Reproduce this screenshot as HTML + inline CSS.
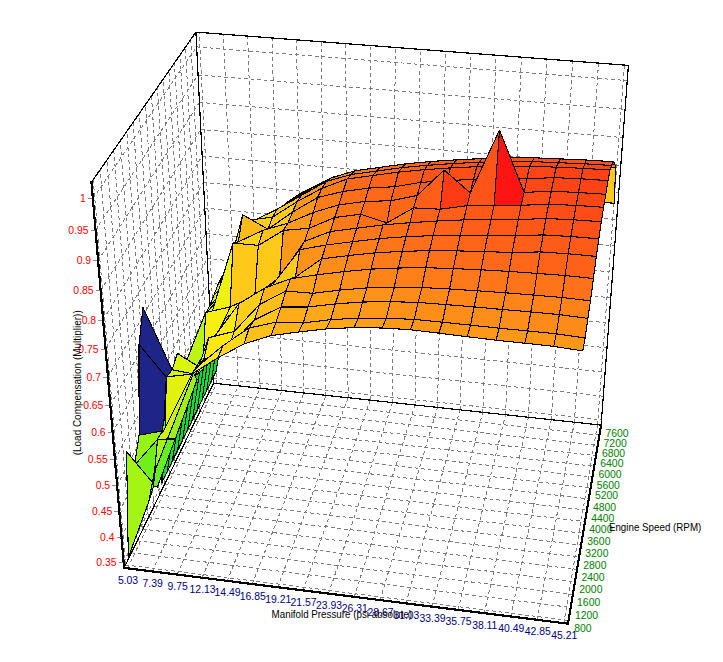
<!DOCTYPE html>
<html><head><meta charset="utf-8"><title>Load Compensation Surface</title>
<style>html,body{margin:0;padding:0;background:#fff}body{width:723px;height:662px;overflow:hidden}</style></head>
<body>
<svg width="723" height="662" viewBox="0 0 723 662" style="display:block" shape-rendering="crispEdges">
<rect width="723" height="662" fill="#fff"/>
<path d="M127.5,568.3 L216.6,383.5 M152.2,571.4 L238.3,385.9 M177.1,574.6 L260.1,388.2 M202.1,577.7 L282,390.6 M227.1,580.9 L303.9,393 M252.3,584 L326,395.3 M277.7,587.2 L348.1,397.7 M303.1,590.4 L370.3,400.1 M328.6,593.6 L392.6,402.6 M354.3,596.8 L415,405 M380.1,600.1 L437.5,407.4 M405.9,603.3 L460.1,409.9 M432,606.6 L482.8,412.3 M458.1,609.9 L505.5,414.8 M484.3,613.2 L528.4,417.2 M510.7,616.5 L551.3,419.7 M537.2,619.8 L574.4,422.2 M563.8,623.2 L597.5,424.7 M125.5,564.9 L568.5,620.5 M131.4,552.8 L570.7,607.4 M137.2,540.8 L572.9,594.5 M142.9,529.1 L575,581.8 M148.5,517.5 L577,569.4 M154,506.2 L579.1,557.1 M159.4,495 L581.1,545.1 M164.7,484 L583.1,533.3 M170,473.2 L585,521.6 M175.1,462.6 L586.9,510.2 M180.2,452.1 L588.8,498.9 M185.2,441.8 L590.6,487.9 M190.1,431.6 L592.4,477 M194.9,421.6 L594.2,466.3 M199.7,411.8 L596,455.7 M204.4,402.1 L597.7,445.4 M209,392.6 L599.4,435.2 M125.5,564.9 L93.2,179.7 M131.4,552.8 L100.2,169.7 M137.2,540.8 L107,159.9 M142.9,529.1 L113.8,150.2 M148.5,517.5 L120.3,140.8 M154,506.2 L126.8,131.5 M159.4,495 L133.1,122.4 M164.7,484 L139.4,113.4 M170,473.2 L145.5,104.6 M175.1,462.6 L151.5,96 M180.2,452.1 L157.4,87.5 M185.2,441.8 L163.2,79.2 M190.1,431.6 L168.9,71 M194.9,421.6 L174.5,63 M199.7,411.8 L180,55.1 M204.4,402.1 L185.4,47.3 M209,392.6 L190.7,39.7 M123.6,562.4 L213.3,378.1 M121.5,537.3 L212.2,354.9 M119.3,511.8 L211,331.4 M117.1,485.8 L209.8,307.5 M114.9,459.4 L208.5,283.2 M112.6,432.5 L207.3,258.6 M110.3,405.1 L206,233.6 M108,377.2 L204.8,208.2 M105.6,348.9 L203.5,182.4 M103.2,319.9 L202.1,156.1 M100.7,290.5 L200.8,129.5 M98.1,260.5 L199.4,102.4 M95.6,229.9 L198.1,74.9 M92.9,198.7 L196.6,46.9 M216.6,383.5 L199.2,32.4 M238.3,385.9 L223.4,34.3 M260.1,388.2 L247.6,36.1 M282,390.6 L272,38 M303.9,393 L296.4,39.9 M326,395.3 L321,41.8 M348.1,397.7 L345.7,43.7 M370.3,400.1 L370.5,45.6 M392.6,402.6 L395.3,47.5 M415,405 L420.3,49.4 M437.5,407.4 L445.5,51.3 M460.1,409.9 L470.7,53.3 M482.8,412.3 L496,55.2 M505.5,414.8 L521.5,57.2 M528.4,417.2 L547,59.1 M551.3,419.7 L572.7,61.1 M574.4,422.2 L598.5,63.1 M597.5,424.7 L624.4,65.1 M213.3,378.1 L601.5,419.9 M212.2,354.9 L603.3,396.2 M211,331.4 L605.1,372.2 M209.8,307.5 L607,347.8 M208.5,283.2 L608.9,323 M207.3,258.6 L610.8,297.8 M206,233.6 L612.7,272.1 M204.8,208.2 L614.7,246.1 M203.5,182.4 L616.7,219.6 M202.1,156.1 L618.8,192.8 M200.8,129.5 L620.8,165.4 M199.4,102.4 L622.9,137.6 M198.1,74.9 L625.1,109.3 M196.6,46.9 L627.3,80.6" fill="none" stroke="#7a7a7a" stroke-width="1" stroke-dasharray="3.6 3"/>
<path d="M124.1,567.9 L213.6,383.2 M213.6,383.2 L601.1,425.1 M91.5,182.2 L195.9,32.1 M195.9,32.1 L628.4,65.4 M195.9,32.1 L213.6,383.2 M628.4,65.4 L601.1,425.1" fill="none" stroke="#000" stroke-width="1.2"/>
<g stroke="#000" stroke-width="1.1" stroke-linejoin="round">
<path d="M211.4,380.9 L228.4,269.9 L233.4,271 L216,371.5Z" fill="#05e22b"/>
<path d="M228.4,269.9 L250.7,257.1 L255.3,253.3 L233.4,271Z" fill="#bcf511"/>
<path d="M250.7,257.1 L272.4,215.7 L276.9,212.3 L255.3,253.3Z" fill="#d6f50e"/>
<path d="M272.4,215.7 L295.4,196.9 L299.7,193.7 L276.9,212.3Z" fill="#f7ef10"/>
<path d="M295.4,196.9 L318.9,184.8 L323,182.1 L299.7,193.7Z" fill="#ffe614"/>
<path d="M318.9,184.8 L342.7,174.6 L346.6,174.2 L323,182.1Z" fill="#ffcd18"/>
<path d="M342.7,174.6 L366.7,176.5 L370.4,210.5 L346.6,174.2Z" fill="#ffbe19"/>
<path d="M366.7,176.5 L391,173.2 L394.1,207.5 L370.4,210.5Z" fill="#ffe514"/>
<path d="M391,173.2 L415.4,169.9 L418,204.4 L394.1,207.5Z" fill="#ffe015"/>
<path d="M415.4,169.9 L439.9,167.7 L442.1,202.3 L418,204.4Z" fill="#ffdb16"/>
<path d="M439.9,167.7 L464.7,166 L466.3,200.8 L442.1,202.3Z" fill="#ffd617"/>
<path d="M464.7,166 L489.6,164.9 L490.7,199.8 L466.3,200.8Z" fill="#ffd317"/>
<path d="M489.6,164.9 L514.6,164.3 L515.1,199.3 L490.7,199.8Z" fill="#ffcf18"/>
<path d="M514.6,164.3 L539.7,164.2 L539.7,199.3 L515.1,199.3Z" fill="#ffcd18"/>
<path d="M539.7,164.2 L564.9,165.3 L564.4,200.4 L539.7,199.3Z" fill="#ffcb19"/>
<path d="M564.9,165.3 L590.2,166.3 L589.2,201.6 L564.4,200.4Z" fill="#ffca19"/>
<path d="M590.2,166.3 L615.7,167.9 L614.1,203.2 L589.2,201.6Z" fill="#ffc919"/>
<path d="M206.8,390.4 L223.5,273.9 L228.4,269.9 L211.4,380.9Z" fill="#05e22b"/>
<path d="M223.5,273.9 L246,260.9 L250.7,257.1 L228.4,269.9Z" fill="#c8f50f"/>
<path d="M246,260.9 L267.9,220.3 L272.4,215.7 L250.7,257.1Z" fill="#ddf50e"/>
<path d="M267.9,220.3 L291,199.8 L295.4,196.9 L272.4,215.7Z" fill="#f9ed11"/>
<path d="M291,199.8 L314.7,187.5 L318.9,184.8 L295.4,196.9Z" fill="#ffe115"/>
<path d="M314.7,187.5 L338.7,175.6 L342.7,174.6 L318.9,184.8Z" fill="#ffc619"/>
<path d="M338.7,175.6 L363,173.1 L366.7,176.5 L342.7,174.6Z" fill="#ffb019"/>
<path d="M363,173.1 L387.5,169.8 L391,173.2 L366.7,176.5Z" fill="#ffb019"/>
<path d="M387.5,169.8 L412.2,166.5 L415.4,169.9 L391,173.2Z" fill="#ffa619"/>
<path d="M412.2,166.5 L437,164.2 L439.9,167.7 L415.4,169.9Z" fill="#ff9c19"/>
<path d="M437,164.2 L462.1,162.5 L464.7,166 L439.9,167.7Z" fill="#ff9519"/>
<path d="M462.1,162.5 L487.2,161.3 L489.6,164.9 L464.7,166Z" fill="#ff8e19"/>
<path d="M487.2,161.3 L512.5,160.7 L514.6,164.3 L489.6,164.9Z" fill="#ff8919"/>
<path d="M512.5,160.7 L538,160.6 L539.7,164.2 L514.6,164.3Z" fill="#ff8419"/>
<path d="M538,160.6 L563.5,161.7 L564.9,165.3 L539.7,164.2Z" fill="#ff8119"/>
<path d="M563.5,161.7 L589.1,162.8 L590.2,166.3 L564.9,165.3Z" fill="#ff7f19"/>
<path d="M589.1,162.8 L614.9,164.4 L615.7,167.9 L590.2,166.3Z" fill="#ff7d19"/>
<path d="M202.1,400 L218.7,283 L223.5,273.9 L206.8,390.4Z" fill="#05e22b"/>
<path d="M218.7,283 L241.3,267.4 L246,260.9 L223.5,273.9Z" fill="#cff50f"/>
<path d="M241.3,267.4 L263.2,224.4 L267.9,220.3 L246,260.9Z" fill="#e4f50e"/>
<path d="M263.2,224.4 L286.5,202.6 L291,199.8 L267.9,220.3Z" fill="#fbec12"/>
<path d="M286.5,202.6 L310.4,190.3 L314.7,187.5 L291,199.8Z" fill="#ffdb16"/>
<path d="M310.4,190.3 L334.6,176.6 L338.7,175.6 L314.7,187.5Z" fill="#ffbc19"/>
<path d="M334.6,176.6 L359.1,171.4 L363,173.1 L338.7,175.6Z" fill="#ffa319"/>
<path d="M359.1,171.4 L383.9,168 L387.5,169.8 L363,173.1Z" fill="#ff9a19"/>
<path d="M383.9,168 L408.9,164.6 L412.2,166.5 L387.5,169.8Z" fill="#ff9119"/>
<path d="M408.9,164.6 L434,162.3 L437,164.2 L412.2,166.5Z" fill="#ff8819"/>
<path d="M434,162.3 L459.3,160.6 L462.1,162.5 L437,164.2Z" fill="#ff8119"/>
<path d="M459.3,160.6 L484.8,159.4 L487.2,161.3 L462.1,162.5Z" fill="#ff7a19"/>
<path d="M484.8,159.4 L510.4,158.8 L512.5,160.7 L487.2,161.3Z" fill="#ff7519"/>
<path d="M510.4,158.8 L536.1,158.7 L538,160.6 L512.5,160.7Z" fill="#ff7019"/>
<path d="M536.1,158.7 L561.9,159.8 L563.5,161.7 L538,160.6Z" fill="#ff6c19"/>
<path d="M561.9,159.8 L587.9,160.8 L589.1,162.8 L563.5,161.7Z" fill="#ff6a19"/>
<path d="M587.9,160.8 L613.9,162.5 L614.9,164.4 L589.1,162.8Z" fill="#ff6919"/>
<path d="M197.3,409.8 L214,294.8 L218.7,283 L202.1,400Z" fill="#05e22b"/>
<path d="M214,294.8 L236.5,274 L241.3,267.4 L218.7,283Z" fill="#cff50f"/>
<path d="M236.5,274 L258.3,223.8 L263.2,224.4 L241.3,267.4Z" fill="#e6f40e"/>
<path d="M258.3,223.8 L281.9,206.7 L286.5,202.6 L263.2,224.4Z" fill="#fdea13"/>
<path d="M281.9,206.7 L306,191.4 L310.4,190.3 L286.5,202.6Z" fill="#ffd517"/>
<path d="M306,191.4 L330.4,178.2 L334.6,176.6 L310.4,190.3Z" fill="#ffb119"/>
<path d="M330.4,178.2 L355.2,170.7 L359.1,171.4 L334.6,176.6Z" fill="#ff9519"/>
<path d="M355.2,170.7 L380.3,167.3 L383.9,168 L359.1,171.4Z" fill="#ff8919"/>
<path d="M380.3,167.3 L405.5,163.9 L408.9,164.6 L383.9,168Z" fill="#ff8019"/>
<path d="M405.5,163.9 L430.9,161.5 L434,162.3 L408.9,164.6Z" fill="#ff7619"/>
<path d="M430.9,161.5 L456.5,159.8 L459.3,160.6 L434,162.3Z" fill="#ff6f19"/>
<path d="M456.5,159.8 L482.2,158.6 L484.8,159.4 L459.3,160.6Z" fill="#ff6919"/>
<path d="M482.2,158.6 L508.1,157.9 L510.4,158.8 L484.8,159.4Z" fill="#ff6419"/>
<path d="M508.1,157.9 L534.2,157.8 L536.1,158.7 L510.4,158.8Z" fill="#ff6118"/>
<path d="M534.2,157.8 L560.3,158.9 L561.9,159.8 L536.1,158.7Z" fill="#ff5d18"/>
<path d="M560.3,158.9 L586.5,160 L587.9,160.8 L561.9,159.8Z" fill="#ff5c18"/>
<path d="M586.5,160 L612.9,161.7 L613.9,162.5 L587.9,160.8Z" fill="#ff5a18"/>
<path d="M192.5,419.7 L209.3,306.7 L214,294.8 L197.3,409.8Z" fill="#05e22b"/>
<path d="M209.3,306.7 L231.6,280.8 L236.5,274 L214,294.8Z" fill="#ccf50f"/>
<path d="M231.6,280.8 L253.2,221 L258.3,223.8 L236.5,274Z" fill="#e8f40e"/>
<path d="M253.2,221 L277.2,209.1 L281.9,206.7 L258.3,223.8Z" fill="#ffe415"/>
<path d="M277.2,209.1 L301.5,195.4 L306,191.4 L281.9,206.7Z" fill="#ffd118"/>
<path d="M301.5,195.4 L326.2,181.5 L330.4,178.2 L306,191.4Z" fill="#ffa419"/>
<path d="M326.2,181.5 L351.2,174.5 L355.2,170.7 L330.4,178.2Z" fill="#ff8919"/>
<path d="M351.2,174.5 L376.5,171.1 L380.3,167.3 L355.2,170.7Z" fill="#ff7919"/>
<path d="M376.5,171.1 L402,167.6 L405.5,163.9 L380.3,167.3Z" fill="#ff7019"/>
<path d="M402,167.6 L427.7,165.3 L430.9,161.5 L405.5,163.9Z" fill="#ff6719"/>
<path d="M427.7,165.3 L453.5,163.5 L456.5,159.8 L430.9,161.5Z" fill="#ff6118"/>
<path d="M453.5,163.5 L479.5,162.3 L482.2,158.6 L456.5,159.8Z" fill="#ff5c18"/>
<path d="M479.5,162.3 L505.6,161.7 L508.1,157.9 L482.2,158.6Z" fill="#ff5718"/>
<path d="M505.6,161.7 L531.9,161.6 L534.2,157.8 L508.1,157.9Z" fill="#ff5417"/>
<path d="M531.9,161.6 L558.3,162.7 L560.3,158.9 L534.2,157.8Z" fill="#ff5117"/>
<path d="M558.3,162.7 L584.8,163.8 L586.5,160 L560.3,158.9Z" fill="#ff4f17"/>
<path d="M584.8,163.8 L611.5,165.5 L612.9,161.7 L586.5,160Z" fill="#ff4e17"/>
<path d="M187.6,429.8 L204.3,316.3 L209.3,306.7 L192.5,419.7Z" fill="#05e22b"/>
<path d="M204.3,316.3 L226.6,287.6 L231.6,280.8 L209.3,306.7Z" fill="#c8f50f"/>
<path d="M226.6,287.6 L248.1,220.3 L253.2,221 L231.6,280.8Z" fill="#ebf30f"/>
<path d="M248.1,220.3 L272.6,217.1 L277.2,209.1 L253.2,221Z" fill="#ffd816"/>
<path d="M272.6,217.1 L297,201.7 L301.5,195.4 L277.2,209.1Z" fill="#ffca19"/>
<path d="M297,201.7 L321.9,188.3 L326.2,181.5 L301.5,195.4Z" fill="#ff9b19"/>
<path d="M321.9,188.3 L347.1,179 L351.2,174.5 L326.2,181.5Z" fill="#ff8019"/>
<path d="M347.1,179 L372.7,175.5 L376.5,171.1 L351.2,174.5Z" fill="#ff7119"/>
<path d="M372.7,175.5 L398.4,172.1 L402,167.6 L376.5,171.1Z" fill="#ff6819"/>
<path d="M398.4,172.1 L424.3,169.7 L427.7,165.3 L402,167.6Z" fill="#ff6118"/>
<path d="M424.3,169.7 L450.4,167.9 L453.5,163.5 L427.7,165.3Z" fill="#ff5a18"/>
<path d="M450.4,167.9 L476.7,166.7 L479.5,162.3 L453.5,163.5Z" fill="#ff5517"/>
<path d="M476.7,166.7 L503.1,166.1 L505.6,161.7 L479.5,162.3Z" fill="#ff5117"/>
<path d="M503.1,166.1 L529.6,166.1 L531.9,161.6 L505.6,161.7Z" fill="#ff4d17"/>
<path d="M529.6,166.1 L556.3,167.2 L558.3,162.7 L531.9,161.6Z" fill="#ff4a16"/>
<path d="M556.3,167.2 L583.1,168.3 L584.8,163.8 L558.3,162.7Z" fill="#ff4816"/>
<path d="M583.1,168.3 L610,170 L611.5,165.5 L584.8,163.8Z" fill="#ff4716"/>
<path d="M182.6,440.1 L199.4,328.6 L204.3,316.3 L187.6,429.8Z" fill="#05e22b"/>
<path d="M199.4,328.6 L221.7,297.2 L226.6,287.6 L204.3,316.3Z" fill="#c8f50f"/>
<path d="M221.7,297.2 L242.6,214.7 L248.1,220.3 L226.6,287.6Z" fill="#edf20f"/>
<path d="M242.6,214.7 L268,229.2 L272.6,217.1 L248.1,220.3Z" fill="#ffce18"/>
<path d="M268,229.2 L292.6,212 L297,201.7 L272.6,217.1Z" fill="#ffc919"/>
<path d="M292.6,212 L317.6,197.5 L321.9,188.3 L297,201.7Z" fill="#ff9619"/>
<path d="M317.6,197.5 L343,191.5 L347.1,179 L321.9,188.3Z" fill="#ff7c19"/>
<path d="M343,191.5 L368.8,188.1 L372.7,175.5 L347.1,179Z" fill="#ff6a19"/>
<path d="M368.8,188.1 L394.7,186.7 L398.4,172.1 L372.7,175.5Z" fill="#ff6218"/>
<path d="M394.7,186.7 L420.8,182.4 L424.3,169.7 L398.4,172.1Z" fill="#ff5a18"/>
<path d="M420.8,182.4 L447.1,180.6 L450.4,167.9 L424.3,169.7Z" fill="#ff5417"/>
<path d="M447.1,180.6 L473.5,179.4 L476.7,166.7 L450.4,167.9Z" fill="#ff4f17"/>
<path d="M473.5,179.4 L500.1,178.8 L503.1,166.1 L476.7,166.7Z" fill="#ff4a17"/>
<path d="M500.1,178.8 L526.9,178.8 L529.6,166.1 L503.1,166.1Z" fill="#ff4716"/>
<path d="M526.9,178.8 L553.9,177.6 L556.3,167.2 L529.6,166.1Z" fill="#ff4416"/>
<path d="M553.9,177.6 L580.9,178.8 L583.1,168.3 L556.3,167.2Z" fill="#ff4216"/>
<path d="M580.9,178.8 L608,180.6 L610,170 L583.1,168.3Z" fill="#ff4116"/>
<path d="M177.5,450.5 L194.4,341.1 L199.4,328.6 L182.6,440.1Z" fill="#05e22b"/>
<path d="M194.4,341.1 L216.7,307 L221.7,297.2 L199.4,328.6Z" fill="#c5f50f"/>
<path d="M216.7,307 L238.4,241.8 L242.6,214.7 L221.7,297.2Z" fill="#edf20f"/>
<path d="M238.4,241.8 L263,230.3 L268,229.2 L242.6,214.7Z" fill="#ffba19"/>
<path d="M263,230.3 L288,223.1 L292.6,212 L268,229.2Z" fill="#ffcc18"/>
<path d="M288,223.1 L313.3,212.5 L317.6,197.5 L292.6,212Z" fill="#ff9819"/>
<path d="M313.3,212.5 L338.9,204.8 L343,191.5 L317.6,197.5Z" fill="#ff7c19"/>
<path d="M338.9,204.8 L364.8,201.5 L368.8,188.1 L343,191.5Z" fill="#ff6f19"/>
<path d="M364.8,201.5 L390.9,200.7 L394.7,186.7 L368.8,188.1Z" fill="#ff6719"/>
<path d="M390.9,200.7 L417.2,195.5 L420.8,182.4 L394.7,186.7Z" fill="#ff6218"/>
<path d="M417.2,195.5 L444.2,170 L447.1,180.6 L420.8,182.4Z" fill="#ff5918"/>
<path d="M444.2,170 L470.3,192.9 L473.5,179.4 L447.1,180.6Z" fill="#ff5417"/>
<path d="M470.3,192.9 L499.5,130.1 L500.1,178.8 L473.5,179.4Z" fill="#ff4f17"/>
<path d="M499.5,130.1 L524.1,192.4 L526.9,178.8 L500.1,178.8Z" fill="#ff4b17"/>
<path d="M524.1,192.4 L551.3,191.2 L553.9,177.6 L526.9,178.8Z" fill="#ff4816"/>
<path d="M551.3,191.2 L578.5,192.5 L580.9,178.8 L553.9,177.6Z" fill="#ff4416"/>
<path d="M578.5,192.5 L605.8,194.3 L608,180.6 L580.9,178.8Z" fill="#ff4216"/>
<path d="M172.3,461.1 L189.3,353.8 L194.4,341.1 L177.5,450.5Z" fill="#05e22b"/>
<path d="M189.3,353.8 L211.4,314.3 L216.7,307 L194.4,341.1Z" fill="#c2f510"/>
<path d="M211.4,314.3 L233,243 L238.4,241.8 L216.7,307Z" fill="#edf20f"/>
<path d="M233,243 L258.3,245.4 L263,230.3 L238.4,241.8Z" fill="#ffd118"/>
<path d="M258.3,245.4 L283.3,230.4 L288,223.1 L263,230.3Z" fill="#ffc019"/>
<path d="M283.3,230.4 L308.9,228.3 L313.3,212.5 L288,223.1Z" fill="#ff9b19"/>
<path d="M308.9,228.3 L334.7,217.5 L338.9,204.8 L313.3,212.5Z" fill="#ff8619"/>
<path d="M334.7,217.5 L360.7,214.2 L364.8,201.5 L338.9,204.8Z" fill="#ff7619"/>
<path d="M360.7,214.2 L387,222.9 L390.9,200.7 L364.8,201.5Z" fill="#ff6c19"/>
<path d="M387,222.9 L413.5,207.9 L417.2,195.5 L390.9,200.7Z" fill="#ff6819"/>
<path d="M413.5,207.9 L440.2,209.2 L444.2,170 L417.2,195.5Z" fill="#ff5e18"/>
<path d="M440.2,209.2 L467.1,205.7 L470.3,192.9 L444.2,170Z" fill="#ff3b16"/>
<path d="M467.1,205.7 L494.1,205.2 L499.5,130.1 L470.3,192.9Z" fill="#ff5417"/>
<path d="M494.1,205.2 L521.2,205.3 L524.1,192.4 L499.5,130.1Z" fill="#ff1414"/>
<path d="M521.2,205.3 L548.7,204.2 L551.3,191.2 L524.1,192.4Z" fill="#ff4e17"/>
<path d="M548.7,204.2 L576.1,205.4 L578.5,192.5 L551.3,191.2Z" fill="#ff4916"/>
<path d="M576.1,205.4 L603.6,207.3 L605.8,194.3 L578.5,192.5Z" fill="#ff4716"/>
<path d="M167.1,471.8 L184.1,366.7 L189.3,353.8 L172.3,461.1Z" fill="#05e22b"/>
<path d="M184.1,366.7 L205.6,312.5 L211.4,314.3 L189.3,353.8Z" fill="#bff510"/>
<path d="M205.6,312.5 L230.2,306.9 L233,243 L211.4,314.3Z" fill="#eff20f"/>
<path d="M230.2,306.9 L254.8,295.8 L258.3,245.4 L233,243Z" fill="#ffc919"/>
<path d="M254.8,295.8 L279.6,277.3 L283.3,230.4 L258.3,245.4Z" fill="#ffc919"/>
<path d="M279.6,277.3 L304.5,241.4 L308.9,228.3 L283.3,230.4Z" fill="#ff9719"/>
<path d="M304.5,241.4 L330.4,231.5 L334.7,217.5 L308.9,228.3Z" fill="#ff9019"/>
<path d="M330.4,231.5 L356.7,228.2 L360.7,214.2 L334.7,217.5Z" fill="#ff7b19"/>
<path d="M356.7,228.2 L383.1,224.9 L387,222.9 L360.7,214.2Z" fill="#ff7119"/>
<path d="M383.1,224.9 L409.8,222.7 L413.5,207.9 L387,222.9Z" fill="#ff7b19"/>
<path d="M409.8,222.7 L436.7,221 L440.2,209.2 L413.5,207.9Z" fill="#ff6218"/>
<path d="M436.7,221 L463.7,219.9 L467.1,205.7 L440.2,209.2Z" fill="#ff6018"/>
<path d="M463.7,219.9 L491,219.5 L494.1,205.2 L467.1,205.7Z" fill="#ff5918"/>
<path d="M491,219.5 L518.3,219.6 L521.2,205.3 L494.1,205.2Z" fill="#ff5517"/>
<path d="M518.3,219.6 L545.9,218.5 L548.7,204.2 L521.2,205.3Z" fill="#ff5217"/>
<path d="M545.9,218.5 L573.6,219.8 L576.1,205.4 L548.7,204.2Z" fill="#ff4d17"/>
<path d="M573.6,219.8 L601.3,221.7 L603.6,207.3 L576.1,205.4Z" fill="#ff4c17"/>
<path d="M161.8,482.8 L177.3,353.4 L184.1,366.7 L167.1,471.8Z" fill="#05e22b"/>
<path d="M177.3,353.4 L202.8,369.3 L205.6,312.5 L184.1,366.7Z" fill="#bcf511"/>
<path d="M202.8,369.3 L225.1,318.2 L230.2,306.9 L205.6,312.5Z" fill="#f8ef11"/>
<path d="M225.1,318.2 L249.7,301.6 L254.8,295.8 L230.2,306.9Z" fill="#fbec12"/>
<path d="M249.7,301.6 L274.7,281.8 L279.6,277.3 L254.8,295.8Z" fill="#ffe415"/>
<path d="M274.7,281.8 L299.8,249.6 L304.5,241.4 L279.6,277.3Z" fill="#ffd018"/>
<path d="M299.8,249.6 L326,245 L330.4,231.5 L304.5,241.4Z" fill="#ff9519"/>
<path d="M326,245 L352.5,241.7 L356.7,228.2 L330.4,231.5Z" fill="#ff8119"/>
<path d="M352.5,241.7 L379.2,238.6 L383.1,224.9 L356.7,228.2Z" fill="#ff7819"/>
<path d="M379.2,238.6 L406,236.7 L409.8,222.7 L383.1,224.9Z" fill="#ff6f19"/>
<path d="M406,236.7 L433.1,235.6 L436.7,221 L409.8,222.7Z" fill="#ff6819"/>
<path d="M433.1,235.6 L460.3,235.1 L463.7,219.9 L436.7,221Z" fill="#ff6318"/>
<path d="M460.3,235.1 L487.7,235.2 L491,219.5 L463.7,219.9Z" fill="#ff5e18"/>
<path d="M487.7,235.2 L515.3,235.8 L518.3,219.6 L491,219.5Z" fill="#ff5a18"/>
<path d="M515.3,235.8 L543.1,234.9 L545.9,218.5 L518.3,219.6Z" fill="#ff5718"/>
<path d="M543.1,234.9 L570.9,236.5 L573.6,219.8 L545.9,218.5Z" fill="#ff5317"/>
<path d="M570.9,236.5 L598.8,238.8 L601.3,221.7 L573.6,219.8Z" fill="#ff5117"/>
<path d="M143,307.6 L172.1,369.8 L177.3,353.4 L161.8,482.8Z" fill="#05e22b"/>
<path d="M172.1,369.8 L197.2,374.6 L202.8,369.3 L177.3,353.4Z" fill="#daf50e"/>
<path d="M197.2,374.6 L219.9,328.6 L225.1,318.2 L202.8,369.3Z" fill="#c8f50f"/>
<path d="M219.9,328.6 L244.5,306.3 L249.7,301.6 L225.1,318.2Z" fill="#faec12"/>
<path d="M244.5,306.3 L269.6,286.4 L274.7,281.8 L249.7,301.6Z" fill="#ffe015"/>
<path d="M269.6,286.4 L295.5,277 L299.8,249.6 L274.7,281.8Z" fill="#ffcb19"/>
<path d="M295.5,277 L321.6,258.9 L326,245 L299.8,249.6Z" fill="#ff9219"/>
<path d="M321.6,258.9 L348.3,255.6 L352.5,241.7 L326,245Z" fill="#ff8719"/>
<path d="M348.3,255.6 L375.1,252.8 L379.2,238.6 L352.5,241.7Z" fill="#ff7e19"/>
<path d="M375.1,252.8 L402.2,251.4 L406,236.7 L379.2,238.6Z" fill="#ff7519"/>
<path d="M402.2,251.4 L429.5,250.6 L433.1,235.6 L406,236.7Z" fill="#ff6e19"/>
<path d="M429.5,250.6 L456.9,250.9 L460.3,235.1 L433.1,235.6Z" fill="#ff6919"/>
<path d="M456.9,250.9 L484.5,251.5 L487.7,235.2 L460.3,235.1Z" fill="#ff6519"/>
<path d="M484.5,251.5 L512.2,252.6 L515.3,235.8 L487.7,235.2Z" fill="#ff6218"/>
<path d="M512.2,252.6 L540.2,251.9 L543.1,234.9 L515.3,235.8Z" fill="#ff5f18"/>
<path d="M540.2,251.9 L568.2,253.8 L570.9,236.5 L543.1,234.9Z" fill="#ff5b18"/>
<path d="M568.2,253.8 L596.3,256.4 L598.8,238.8 L570.9,236.5Z" fill="#ff5a18"/>
<path d="M139,344.4 L166.3,377.3 L172.1,369.8 L143,307.6Z" fill="#1e2488"/>
<path d="M166.3,377.3 L191.2,375.2 L197.2,374.6 L172.1,369.8Z" fill="#d2f50f"/>
<path d="M191.2,375.2 L214.5,336.4 L219.9,328.6 L197.2,374.6Z" fill="#cff50f"/>
<path d="M214.5,336.4 L238.8,303.8 L244.5,306.3 L219.9,328.6Z" fill="#faec12"/>
<path d="M238.8,303.8 L264.4,288.2 L269.6,286.4 L244.5,306.3Z" fill="#ffdb16"/>
<path d="M264.4,288.2 L290.6,278.7 L295.5,277 L269.6,286.4Z" fill="#ffc319"/>
<path d="M290.6,278.7 L317.1,274.8 L321.6,258.9 L295.5,277Z" fill="#ffaf19"/>
<path d="M317.1,274.8 L344,271.6 L348.3,255.6 L321.6,258.9Z" fill="#ff8d19"/>
<path d="M344,271.6 L371,269.1 L375.1,252.8 L348.3,255.6Z" fill="#ff8419"/>
<path d="M371,269.1 L398.3,268 L402.2,251.4 L375.1,252.8Z" fill="#ff7b19"/>
<path d="M398.3,268 L425.7,267.7 L429.5,250.6 L402.2,251.4Z" fill="#ff7519"/>
<path d="M425.7,267.7 L453.3,268.6 L456.9,250.9 L429.5,250.6Z" fill="#ff7019"/>
<path d="M453.3,268.6 L481.1,269.8 L484.5,251.5 L456.9,250.9Z" fill="#ff6c19"/>
<path d="M481.1,269.8 L509,271.4 L512.2,252.6 L484.5,251.5Z" fill="#ff6919"/>
<path d="M509,271.4 L537,273.4 L540.2,251.9 L512.2,252.6Z" fill="#ff6819"/>
<path d="M537,273.4 L565.1,275.5 L568.2,253.8 L540.2,251.9Z" fill="#ff6318"/>
<path d="M565.1,275.5 L593.4,278.5 L596.3,256.4 L568.2,253.8Z" fill="#ff6218"/>
<path d="M139.1,435.2 L163.4,430.7 L166.3,377.3 L139,344.4Z" fill="#1e2488"/>
<path d="M163.4,430.7 L186.6,401.7 L191.2,375.2 L166.3,377.3Z" fill="#d6f50e"/>
<path d="M186.6,401.7 L208.6,337.7 L214.5,336.4 L191.2,375.2Z" fill="#dcf50e"/>
<path d="M208.6,337.7 L234.3,331.4 L238.8,303.8 L214.5,336.4Z" fill="#fceb12"/>
<path d="M234.3,331.4 L259.5,304.5 L264.4,288.2 L238.8,303.8Z" fill="#ffce18"/>
<path d="M259.5,304.5 L285.8,291 L290.6,278.7 L264.4,288.2Z" fill="#ffb519"/>
<path d="M285.8,291 L312.7,293.3 L317.1,274.8 L290.6,278.7Z" fill="#ffa119"/>
<path d="M312.7,293.3 L339.7,290.1 L344,271.6 L317.1,274.8Z" fill="#ff9619"/>
<path d="M339.7,290.1 L366.9,287.9 L371,269.1 L344,271.6Z" fill="#ff8d19"/>
<path d="M366.9,287.9 L394.3,287.2 L398.3,268 L371,269.1Z" fill="#ff8519"/>
<path d="M394.3,287.2 L421.9,287.5 L425.7,267.7 L398.3,268Z" fill="#ff7f19"/>
<path d="M421.9,287.5 L449.6,289 L453.3,268.6 L425.7,267.7Z" fill="#ff7a19"/>
<path d="M449.6,289 L477.5,290.8 L481.1,269.8 L453.3,268.6Z" fill="#ff7819"/>
<path d="M477.5,290.8 L505.6,292.8 L509,271.4 L481.1,269.8Z" fill="#ff7519"/>
<path d="M505.6,292.8 L533.8,295.1 L537,273.4 L509,271.4Z" fill="#ff7419"/>
<path d="M533.8,295.1 L562.1,297.5 L565.1,275.5 L537,273.4Z" fill="#ff7319"/>
<path d="M562.1,297.5 L590.5,300.8 L593.4,278.5 L565.1,275.5Z" fill="#ff7219"/>
<path d="M134.6,465.2 L157.5,439.4 L163.4,430.7 L139.1,435.2Z" fill="#97f315"/>
<path d="M157.5,439.4 L180.3,402.1 L186.6,401.7 L163.4,430.7Z" fill="#a5f514"/>
<path d="M180.3,402.1 L203.7,359.8 L208.6,337.7 L186.6,401.7Z" fill="#c8f50f"/>
<path d="M203.7,359.8 L229.1,346.3 L234.3,331.4 L208.6,337.7Z" fill="#ffe714"/>
<path d="M229.1,346.3 L254.5,319.9 L259.5,304.5 L234.3,331.4Z" fill="#ffde16"/>
<path d="M254.5,319.9 L281,307 L285.8,291 L259.5,304.5Z" fill="#ffbe19"/>
<path d="M281,307 L308,307 L312.7,293.3 L285.8,291Z" fill="#ffa419"/>
<path d="M308,307 L335.2,303.9 L339.7,290.1 L312.7,293.3Z" fill="#ffa319"/>
<path d="M335.2,303.9 L362.6,302 L366.9,287.9 L339.7,290.1Z" fill="#ff9919"/>
<path d="M362.6,302 L390.3,301.7 L394.3,287.2 L366.9,287.9Z" fill="#ff9219"/>
<path d="M390.3,301.7 L418.1,302.4 L421.9,287.5 L394.3,287.2Z" fill="#ff8c19"/>
<path d="M418.1,302.4 L446.1,304.6 L449.6,289 L421.9,287.5Z" fill="#ff8819"/>
<path d="M446.1,304.6 L474.1,306.9 L477.5,290.8 L449.6,289Z" fill="#ff8719"/>
<path d="M474.1,306.9 L502.4,309.5 L505.6,292.8 L477.5,290.8Z" fill="#ff8519"/>
<path d="M502.4,309.5 L530.8,311.9 L533.8,295.1 L505.6,292.8Z" fill="#ff8419"/>
<path d="M530.8,311.9 L559.3,314.6 L562.1,297.5 L533.8,295.1Z" fill="#ff8319"/>
<path d="M559.3,314.6 L587.9,318.4 L590.5,300.8 L562.1,297.5Z" fill="#ff8319"/>
<path d="M126.6,451.7 L154.1,484.4 L157.5,439.4 L134.6,465.2Z" fill="#71ef19"/>
<path d="M154.1,484.4 L173.9,402.6 L180.3,402.1 L157.5,439.4Z" fill="#a8f514"/>
<path d="M173.9,402.6 L197.8,366.5 L203.7,359.8 L180.3,402.1Z" fill="#d6f50e"/>
<path d="M197.8,366.5 L223.2,345.4 L229.1,346.3 L203.7,359.8Z" fill="#fbec12"/>
<path d="M223.2,345.4 L249.2,328 L254.5,319.9 L229.1,346.3Z" fill="#ffe215"/>
<path d="M249.2,328 L276.1,322.1 L281,307 L254.5,319.9Z" fill="#ffc619"/>
<path d="M276.1,322.1 L303.3,322.8 L308,307 L281,307Z" fill="#ffac19"/>
<path d="M303.3,322.8 L330.7,319.7 L335.2,303.9 L308,307Z" fill="#ffa819"/>
<path d="M330.7,319.7 L358.4,318.1 L362.6,302 L335.2,303.9Z" fill="#ff9e19"/>
<path d="M358.4,318.1 L386.2,318.2 L390.3,301.7 L362.6,302Z" fill="#ff9719"/>
<path d="M386.2,318.2 L414.2,319.4 L418.1,302.4 L390.3,301.7Z" fill="#ff9219"/>
<path d="M414.2,319.4 L442.4,322.2 L446.1,304.6 L418.1,302.4Z" fill="#ff8f19"/>
<path d="M442.4,322.2 L470.6,325.1 L474.1,306.9 L446.1,304.6Z" fill="#ff8e19"/>
<path d="M470.6,325.1 L499.1,328.2 L502.4,309.5 L474.1,306.9Z" fill="#ff8d19"/>
<path d="M499.1,328.2 L527.6,330.9 L530.8,311.9 L502.4,309.5Z" fill="#ff8d19"/>
<path d="M527.6,330.9 L556.3,333.8 L559.3,314.6 L530.8,311.9Z" fill="#ff8c19"/>
<path d="M556.3,333.8 L585.1,337.9 L587.9,318.4 L559.3,314.6Z" fill="#ff8c19"/>
<path d="M128.3,557.4 L148.7,502 L154.1,484.4 L126.6,451.7Z" fill="#a3f514"/>
<path d="M148.7,502 L167.3,403 L173.9,402.6 L154.1,484.4Z" fill="#67ef1b"/>
<path d="M167.3,403 L191.9,373.9 L197.8,366.5 L173.9,402.6Z" fill="#e4f50e"/>
<path d="M191.9,373.9 L217.7,357.9 L223.2,345.4 L197.8,366.5Z" fill="#fdea13"/>
<path d="M217.7,357.9 L244,343.9 L249.2,328 L223.2,345.4Z" fill="#ffd717"/>
<path d="M244,343.9 L271,335.6 L276.1,322.1 L249.2,328Z" fill="#ffc119"/>
<path d="M271,335.6 L298.4,332 L303.3,322.8 L276.1,322.1Z" fill="#ffb319"/>
<path d="M298.4,332 L326.1,328.9 L330.7,319.7 L303.3,322.8Z" fill="#ffaf19"/>
<path d="M326.1,328.9 L354,327.6 L358.4,318.1 L330.7,319.7Z" fill="#ffa619"/>
<path d="M354,327.6 L382.1,328 L386.2,318.2 L358.4,318.1Z" fill="#ff9f19"/>
<path d="M382.1,328 L410.4,329.7 L414.2,319.4 L386.2,318.2Z" fill="#ff9a19"/>
<path d="M410.4,329.7 L438.8,333.2 L442.4,322.2 L414.2,319.4Z" fill="#ff9819"/>
<path d="M438.8,333.2 L467.3,336.7 L470.6,325.1 L442.4,322.2Z" fill="#ff9819"/>
<path d="M467.3,336.7 L496,340.2 L499.1,328.2 L470.6,325.1Z" fill="#ff9819"/>
<path d="M496,340.2 L524.8,343.2 L527.6,330.9 L499.1,328.2Z" fill="#ff9819"/>
<path d="M524.8,343.2 L553.7,346.4 L556.3,333.8 L527.6,330.9Z" fill="#ff9819"/>
<path d="M553.7,346.4 L582.8,350.9 L585.1,337.9 L556.3,333.8Z" fill="#ff9819"/>
<path d="M166.2,376.8 L191.8,374.2 L163.8,430.6 L165.5,430 Z" fill="#e2f20e"/>
<path d="M191.8,374.2 L163.8,430.6 L158.3,437.2 L157.5,439.5 L167.4,439 L193.5,373 Z" fill="#ccf210"/>
<path d="M157.5,439.5 L167.4,439 L155.3,470 L153.3,486 Z" fill="#a5f514"/>
<path d="M193.5,373 L167.4,439 L175.2,439 L197.1,379.8 Z" fill="#a0f018"/>
<path d="M167.4,439 L175.2,439 L157.4,487 L153.3,486 L155.3,470 Z" fill="#64f01e"/>
</g>
<path d="M124.1,567.9 L568,623.7 M568,623.7 L601.1,425.1 M124.1,567.9 L91.5,182.2" fill="none" stroke="#000" stroke-width="2.2" stroke-linecap="square"/>
<g font-family="'Liberation Sans',sans-serif" font-size="10.4">
<text x="85.9" y="202.2" text-anchor="end" fill="#ff0000">1</text>
<text x="88.6" y="233.9" text-anchor="end" fill="#ff0000">0.95</text>
<text x="91.1" y="263.7" text-anchor="end" fill="#ff0000">0.9</text>
<text x="93.6" y="293.9" text-anchor="end" fill="#ff0000">0.85</text>
<text x="96.1" y="323.7" text-anchor="end" fill="#ff0000">0.8</text>
<text x="98.6" y="353.1" text-anchor="end" fill="#ff0000">0.75</text>
<text x="101" y="381.2" text-anchor="end" fill="#ff0000">0.7</text>
<text x="103.4" y="409.3" text-anchor="end" fill="#ff0000">0.65</text>
<text x="105.6" y="435.9" text-anchor="end" fill="#ff0000">0.6</text>
<text x="107.9" y="463.3" text-anchor="end" fill="#ff0000">0.55</text>
<text x="110.1" y="489.1" text-anchor="end" fill="#ff0000">0.5</text>
<text x="112.3" y="515.2" text-anchor="end" fill="#ff0000">0.45</text>
<text x="114.5" y="541" text-anchor="end" fill="#ff0000">0.4</text>
<text x="116.6" y="566.3" text-anchor="end" fill="#ff0000">0.35</text>
<text x="128" y="583.8" text-anchor="middle" fill="#000080">5.03</text>
<text x="152.7" y="586.9" text-anchor="middle" fill="#000080">7.39</text>
<text x="177.6" y="590.1" text-anchor="middle" fill="#000080">9.75</text>
<text x="202.6" y="593.2" text-anchor="middle" fill="#000080">12.13</text>
<text x="227.6" y="596.4" text-anchor="middle" fill="#000080">14.49</text>
<text x="252.8" y="599.5" text-anchor="middle" fill="#000080">16.85</text>
<text x="278.2" y="602.7" text-anchor="middle" fill="#000080">19.21</text>
<text x="303.6" y="605.9" text-anchor="middle" fill="#000080">21.57</text>
<text x="329.1" y="609.1" text-anchor="middle" fill="#000080">23.93</text>
<text x="354.8" y="612.3" text-anchor="middle" fill="#000080">26.31</text>
<text x="380.6" y="615.6" text-anchor="middle" fill="#000080">28.67</text>
<text x="406.4" y="618.8" text-anchor="middle" fill="#000080">31.03</text>
<text x="432.5" y="622.1" text-anchor="middle" fill="#000080">33.39</text>
<text x="458.6" y="625.4" text-anchor="middle" fill="#000080">35.75</text>
<text x="484.8" y="628.7" text-anchor="middle" fill="#000080">38.11</text>
<text x="511.2" y="632" text-anchor="middle" fill="#000080">40.49</text>
<text x="537.7" y="635.3" text-anchor="middle" fill="#000080">42.85</text>
<text x="564.3" y="638.7" text-anchor="middle" fill="#000080">45.21</text>
<text x="574.2" y="632.1" fill="#008000">800</text>
<text x="575" y="618.8" fill="#008000">1200</text>
<text x="577.1" y="606.2" fill="#008000">1600</text>
<text x="579.3" y="593.2" fill="#008000">2000</text>
<text x="581.4" y="580.6" fill="#008000">2400</text>
<text x="583.3" y="568.9" fill="#008000">2800</text>
<text x="585.3" y="557" fill="#008000">3200</text>
<text x="587.3" y="545" fill="#008000">3600</text>
<text x="589.3" y="533" fill="#008000">4000</text>
<text x="591.2" y="522.1" fill="#008000">4400</text>
<text x="593" y="511.1" fill="#008000">4800</text>
<text x="595" y="499.1" fill="#008000">5200</text>
<text x="596.7" y="488.8" fill="#008000">5600</text>
<text x="598.5" y="477.9" fill="#008000">6000</text>
<text x="600.3" y="467.2" fill="#008000">6400</text>
<text x="602" y="457.3" fill="#008000">6800</text>
<text x="603.6" y="447.3" fill="#008000">7200</text>
<text x="605.4" y="437" fill="#008000">7600</text>
</g>
<g font-family="'Liberation Sans',sans-serif" font-size="10.6" fill="#000">
<text x="271.6" y="618" textLength="140.4" lengthAdjust="spacingAndGlyphs">Manifold Pressure (psi absolute)</text>
<text x="608.9" y="530.8" textLength="92.4" lengthAdjust="spacingAndGlyphs">Engine Speed (RPM)</text>
<text transform="translate(80.5,455.3) rotate(-90)" textLength="145" lengthAdjust="spacingAndGlyphs">(Load Compensation (Multiplier))</text>
</g>
<path d="M91.9,198.5 L87.9,198.5 M94.6,230.2 L90.6,230.2 M97.1,260 L93.1,260 M99.6,290.2 L95.6,290.2 M102.1,320 L98.1,320 M104.6,349.4 L100.6,349.4 M107,377.5 L103,377.5 M109.4,405.6 L105.4,405.6 M111.6,432.2 L107.6,432.2 M113.9,459.6 L109.9,459.6 M116.1,485.4 L112.1,485.4 M118.3,511.5 L114.3,511.5 M120.5,537.3 L116.5,537.3 M122.6,562.6 L118.6,562.6" fill="none" stroke="#888" stroke-width="1"/>
</svg>
</body></html>
